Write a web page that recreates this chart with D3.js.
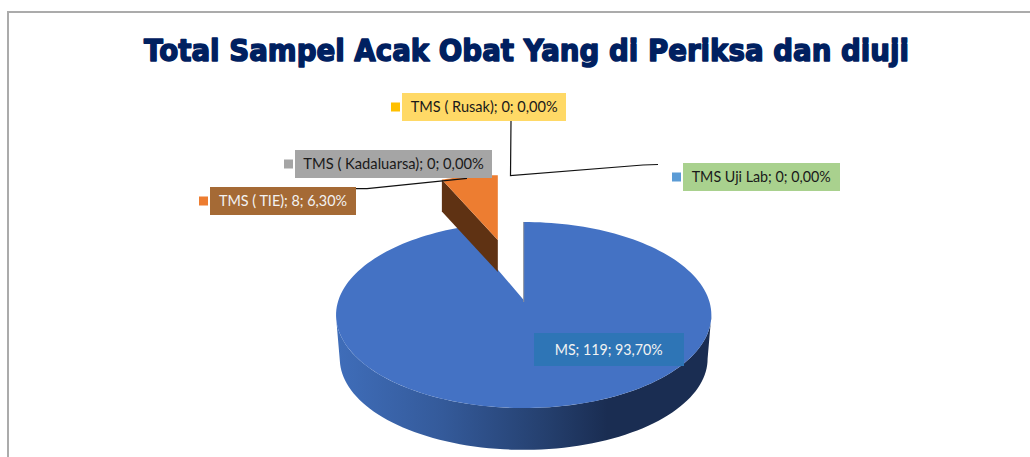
<!DOCTYPE html>
<html>
<head>
<meta charset="utf-8">
<script src="https://cdn.jsdelivr.net/npm/d3@7/dist/d3.min.js"></script>
<style>
html,body{margin:0;padding:0;background:#fff;overflow:hidden}
svg{display:block}
</style>
</head>
<body>
<svg id="chart" width="1030" height="457"></svg>
<script>
const titleText = "Total Sampel Acak Obat Yang di Periksa dan diuji";
const categories = ["MS", "TMS Uji Lab", "TMS ( Rusak)", "TMS ( Kadaluarsa)", "TMS ( TIE)"];
const values = [119, 0, 0, 0, 8];
const percents = ["93,70%", "0,00%", "0,00%", "0,00%", "6,30%"];
const sliceColors = ["#4472c4", "#5b9bd5", "#ffc000", "#a5a5a5", "#ed7d31"];
const labelFills = ["#2e75b6", "#a9d18e", "#ffd966", "#a5a5a5", "#a56a35"];
const labelInk = ["#f2f2f2", "#1a1a1a", "#1a1a1a", "#1a1a1a", "#f2f2f2"];

// label box layout: x, y, w, h, text start, text width, marker x
const labelBoxes = [
  [534, 333, 150, 33, 554.7, 108, 523],
  [683, 163, 157, 28, 691.7, 139, 672],
  [402, 93, 164, 28, 410.7, 147, 391],
  [295, 150, 197, 28, 303.3, 180.5, 284],
  [210, 187, 146, 28, 219, 128, 199]
];

const svg = d3.select("#chart");
const k = 0.1613, A = 90.6, B = 185.2;
function project(angle, sx, sy, ax, ay) {
  const u = Math.sin(angle), v = -Math.cos(angle), d = 1 - k * v;
  return [ax + sx * B * u / d, ay + sy * A * v / d];
}
const line = d3.line();
const pie = d3.pie().sort(null).value(d => d);
const arcs = pie(values);
const msArc = arcs[0], tieArc = arcs[4];

const defs = svg.append("defs");
const grad = defs.append("linearGradient").attr("id", "wall")
  .attr("gradientUnits", "userSpaceOnUse").attr("x1", 338).attr("x2", 712).attr("y1", 0).attr("y2", 0);
[[0, "#3f6db9"], [0.28, "#345a9a"], [0.55, "#25406f"], [0.72, "#1a2d52"], [1, "#1a2d52"]]
  .forEach(s => grad.append("stop").attr("offset", s[0]).attr("stop-color", s[1]));

// frame
svg.append("path").attr("d", "M8 457V12H1030").attr("fill", "none").attr("stroke", "#ababab").attr("stroke-width", 2);

// title
svg.append("text").text(titleText)
  .attr("x", 144).attr("y", 60.5)
  .attr("textLength", 765).attr("lengthAdjust", "spacingAndGlyphs")
  .attr("font-family", "'DejaVu Sans'").attr("font-weight", "bold").attr("font-size", 31)
  .attr("fill", "#002060").attr("stroke", "#002060").attr("stroke-width", 1.6)
  .attr("stroke-linejoin", "round");

// blue slice: wall, between the tangent points of the upper and lower rims
const ax = 523.7, ay = 300, depth = 44, bottomScale = 0.98;
const tangent = Math.acos(-k) * 180 / Math.PI;
const frontAngles = d3.range(tangent, 360 - tangent + 0.01, 2).map(a => a * Math.PI / 180);
const topFront = frontAngles.map(a => project(a, 1, 1, ax, ay));
const bottomFront = frontAngles.map(a => project(a, bottomScale, bottomScale, ax, ay + depth)).reverse();
svg.append("path").attr("d", line(topFront.concat(bottomFront)) + "Z").attr("fill", "url(#wall)");

// blue slice: top
const n = 170;
const msPts = [[ax, ay]].concat(d3.range(n + 1).map(i =>
  project(msArc.startAngle + (msArc.endAngle - msArc.startAngle) * i / n, 1, 1, ax, ay)));
svg.append("path").attr("d", line(msPts) + "Z").attr("fill", sliceColors[0]);
svg.append("path").attr("d", line([project(msArc.startAngle, 1, 1, ax, ay), [ax, ay + 2]]))
  .attr("stroke", "#8a8f99").attr("stroke-width", 1).attr("fill", "none");

// orange slice
const ox = 497.8, oy = 240, osx = 0.9, osy = 0.83, oDepth = 32;
const tiePts = d3.range(21).map(i =>
  project(tieArc.startAngle + (tieArc.endAngle - tieArc.startAngle) * i / 20, osx, osy, ox, oy));
svg.append("path")
  .attr("d", line([tiePts[0], [ox, oy], [ox, oy + oDepth], [tiePts[0][0], tiePts[0][1] + oDepth]]) + "Z")
  .attr("fill", "#5f3213");
svg.append("path").attr("d", line([[ox, oy]].concat(tiePts)) + "Z").attr("fill", sliceColors[4]);

// leader lines
svg.append("path").attr("d", line([[511, 121], [510.5, 175.5], [643, 165], [658, 164.5]]))
  .attr("fill", "none").attr("stroke", "#111").attr("stroke-width", 1.2);
svg.append("path").attr("d", line([[356, 188.7], [367, 188.7], [467, 178.3]]))
  .attr("fill", "none").attr("stroke", "#111").attr("stroke-width", 1.2);

// labels
categories.forEach((c, i) => {
  const [x, y, w, h, tx, tw, mx] = labelBoxes[i];
  const cy = y + h / 2;
  svg.append("rect").attr("x", x).attr("y", y).attr("width", w).attr("height", h).attr("fill", labelFills[i]);
  svg.append("rect").attr("x", mx).attr("y", cy - 4.5).attr("width", 9).attr("height", 9)
    .attr("fill", sliceColors[i]);
  svg.append("text").text(`${c}; ${values[i]}; ${percents[i]}`)
    .attr("x", tx).attr("y", cy + 5)
    .attr("textLength", tw).attr("lengthAdjust", "spacingAndGlyphs")
    .attr("font-family", "Lato").attr("font-size", 15).attr("fill", labelInk[i]);
});
</script>
</body>
</html>
